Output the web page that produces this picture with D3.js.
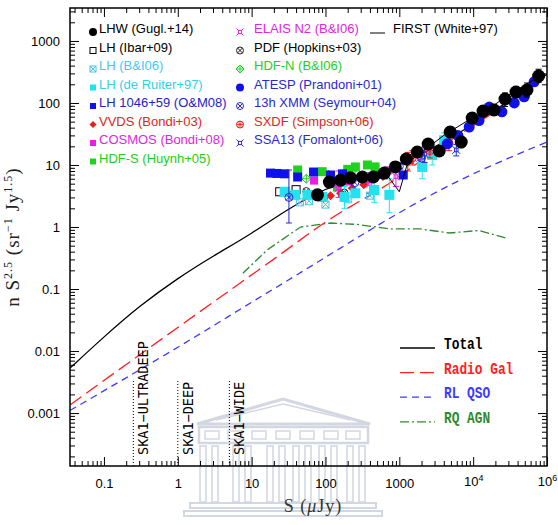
<!DOCTYPE html>
<html>
<head>
<meta charset="utf-8">
<script src="https://cdn.jsdelivr.net/npm/d3@7/dist/d3.min.js"></script>
<style>
  body { margin: 0; background: #fff; }
  svg text { font-family: "Liberation Sans", Arial, sans-serif; }
</style>
</head>
<body>
<div id="chart"></div>
<script>
// ---- model curves: S (uJy) vs n S^2.5 (sr^-1 Jy^1.5)
const totalS = [0.0347, 0.1, 0.3, 1, 3, 10, 30, 100, 300, 1000, 3000, 10000, 30000, 100000];
const totalV = [0.0053, 0.017, 0.053, 0.15, 0.34, 0.78, 1.9, 4.3, 6.2, 10, 19, 45, 105, 290];
const radioGalS = [0.0347, 1, 22, 100, 850, 3000, 10000, 30000, 100000];
const radioGalV = [0.00135, 0.024, 0.33, 1.2, 5.7, 17, 43, 100, 270];
const rlQsoS = [0.0347, 1, 22, 6650, 100000];
const rlQsoV = [0.0011, 0.0115, 0.108, 5.7, 23.5];
const rqAgnS = [7.6, 16.4, 46, 117, 270, 760, 1930, 4750, 12000, 28000];
const rqAgnV = [0.18, 0.43, 1.0, 1.16, 1.1, 0.93, 0.93, 0.8, 0.88, 0.66];

// ---- observed counts: [S, value, errLow, errHigh]
const lhwGugl14 = [[78, 3.3], [113, 5.3], [160, 5.7], [218, 6.2], [316, 6.4], [445, 6.4], [627, 7.4],
  [883, 9.3], [1244, 12.5], [1750, 16.2], [2460, 21.8], [3470, 16.8], [4890, 34, 28, 41], [6900, 23.5, 19, 29],
  [9700, 57, 48, 67], [13600, 74, 62, 88], [19200, 77, 63, 94], [27000, 116, 88, 145], [38000, 150, 122, 185],
  [53500, 162, 125, 210], [77000, 272, 215, 350]];
const lhIbar09 = [[24, 3.7], [40, 4.0]];
const lhBI06 = [[45, 2.5], [60, 2.6], [100, 2.3], [200, 2.8], [400, 3.2]];
const lhDeRuiter97 = [[28, 3.7], [39, 3.3], [57, 3.3], [91, 3.05], [181, 3.05, 2.0, 4.5], [254, 3.5],
  [458, 3.95, 2.5, 6.5], [733, 3.3, 1.7, 6.0], [2040, 9.3, 6, 18], [2790, 14.5, 10, 21], [4040, 25, 18, 33]];
const lh1046OM08 = [[18, 7.4], [22, 7.3], [28, 7.2], [42, 6.4], [69, 7.7], [117, 6.9], [170, 7.2], [600, 7.0], [1130, 6.9]];
const vvdsBondi03 = [[117, 3.2], [160, 3.5], [230, 4.2], [330, 4.8], [600, 6.5], [1300, 11, 8, 16]];
const cosmosBondi08 = [[70, 5.6], [120, 5.0], [200, 5.4], [350, 5.8], [700, 8.2], [1400, 12]];
const hdfsHuynh05 = [[42, 8.3], [90, 7.8], [145, 4.4], [200, 8.5], [254, 9.3], [370, 10], [470, 9.3]];
const elaisBI06 = [[150, 4.2, 3.0, 8.0], [400, 5.0, 3.5, 7.5], [900, 6.5, 4.5, 10], [1900, 13, 9, 19]];
const pdfHopkins03 = [[35, 3.3], [55, 3.8], [95, 2.9], [180, 3.6]];
const hdfnBI06 = [[55, 6], [110, 7], [230, 8]];
const atespPrandoni01 = [[4460, 22], [6200, 30], [8830, 41], [12000, 52], [16500, 86], [24500, 72],
  [36000, 100], [49000, 126], [67000, 219]];
const xmm13hSeymour04 = [[32, 3.0, 1.16, 8.3], [250, 5.2], [500, 6.8], [1000, 9.5], [2000, 13]];
const sxdfSimpson06 = [[1500, 13, 10, 17], [2600, 17, 13, 22], [4700, 22.6, 17, 29]];
const ssa13Fomalont06 = [[2200, 15, 11, 20], [5900, 17.5, 14, 21.5]];
const firstWhite97 = [[700, 6.6], [1000, 3.7], [1300, 11], [2000, 16], [4000, 30], [8000, 50],
  [16000, 80], [32000, 140], [80000, 270]];

// ---- survey depths (uJy)
const skaNames = ["SKA1\u2212ULTRADEEP", "SKA1\u2212DEEP", "SKA1\u2212WIDE"];
const skaDepths = [0.25, 1, 5];

// ---- axis ticks
const xTickVals = [0.1, 1, 10, 100, 1000, 1e4, 1e5];
const xTickLabels = ["0.1", "1", "10", "100", "1000", "10^4", "10^6"];
const yTickVals = [0.001, 0.01, 0.1, 1, 10, 100, 1000];
const yTickLabels = ["0.001", "0.01", "0.1", "1", "10", "100", "1000"];

const W = 558, H = 525;
const margin = {top: 8, right: 11, bottom: 59, left: 70};
const x0 = margin.left, x1 = W - margin.right, y0 = H - margin.bottom, y1 = margin.top;

const svg = d3.select("#chart").append("svg").attr("width", W).attr("height", H);

const x = d3.scaleLog().domain([0.0347, 1e5]).range([x0, x1]);
const y = d3.scaleLog().domain([1.4e-4, 3400]).range([y0, y1]);

svg.append("clipPath").attr("id", "plot-clip")
  .append("rect").attr("x", x0).attr("y", y1).attr("width", x1 - x0).attr("height", y0 - y1);

// faint building watermark behind the lower axis
function drawWatermark() {
  const wm = svg.append("g").attr("fill", "none").attr("stroke", "#d3d7e2");
  wm.append("path").attr("d", "M197,424 L283,399 L370,424 Z").attr("stroke-width", 3);
  wm.append("path").attr("d", "M216,420 L283,404 L351,420").attr("stroke-width", 1.5);
  wm.append("rect").attr("x", 199).attr("y", 427).attr("width", 169).attr("height", 16).attr("stroke-width", 2.5);
  [205, 228, 252, 276, 300, 324, 346].forEach(wx =>
    wm.append("rect").attr("x", wx).attr("y", 431).attr("width", 14).attr("height", 8).attr("stroke-width", 1.5));
  [203, 215, 236, 248, 270, 282, 296, 308, 322, 334, 350, 362].forEach(cx =>
    wm.append("rect").attr("x", cx - 3).attr("y", 446).attr("width", 6).attr("height", 56).attr("stroke-width", 1.6));
  wm.append("rect").attr("x", 190).attr("y", 503).attr("width", 186).attr("height", 5).attr("stroke-width", 2);
  wm.append("rect").attr("x", 184).attr("y", 511).attr("width", 198).attr("height", 5).attr("stroke-width", 2);
}
drawWatermark();

// model curves
const zip = (a, b) => a.map((d, i) => [d, b[i]]);
const models = [
  {s: rqAgnS, v: rqAgnV, color: "#2f8a2f", dash: "9,3,2,3", label: "RQ AGN", curve: d3.curveLinear},
  {s: rlQsoS, v: rlQsoV, color: "#3b3bff", dash: "7,5", label: "RL QSO", curve: d3.curveMonotoneX},
  {s: radioGalS, v: radioGalV, color: "#ff2020", dash: "14,6", label: "Radio Gal", curve: d3.curveMonotoneX},
  {s: totalS, v: totalV, color: "#000", dash: null, label: "Total", curve: d3.curveBasis}
];
const curveG = svg.append("g").attr("clip-path", "url(#plot-clip)");
models.forEach(m => {
  const line = d3.line().x(d => x(d[0])).y(d => y(d[1])).curve(m.curve);
  curveG.append("path").datum(zip(m.s, m.v)).attr("d", line)
    .attr("fill", "none").attr("stroke", m.color).attr("stroke-width", 1.3)
    .attr("stroke-dasharray", m.dash);
});

// SKA depth markers
skaDepths.forEach((d, i) => {
  svg.append("line").attr("x1", x(d)).attr("x2", x(d)).attr("y1", 381).attr("y2", y0)
    .attr("stroke", "#000").attr("stroke-width", 1).attr("stroke-dasharray", "1,2");
  svg.append("text").attr("transform", `translate(${x(d) + 15},455) rotate(-90)`)
    .style("font-family", "'DejaVu Sans Mono', monospace").style("font-size", "13.5px")
    .attr("fill", "#000").text(skaNames[i]);
});

// markers
function drawMarker(g, type, color, s) {
  const h = s / 2;
  const sw = 1;
  if (type === "circle") {
    g.append("circle").attr("r", h).attr("fill", color);
  } else if (type === "square") {
    g.append("rect").attr("x", -h).attr("y", -h).attr("width", s).attr("height", s).attr("fill", color);
  } else if (type === "osquare") {
    g.append("rect").attr("x", -h).attr("y", -h).attr("width", s).attr("height", s)
      .attr("fill", "#fff").attr("stroke", color).attr("stroke-width", sw);
  } else if (type === "xsquare") {
    g.append("rect").attr("x", -h).attr("y", -h).attr("width", s).attr("height", s)
      .attr("fill", "none").attr("stroke", color).attr("stroke-width", sw);
    g.append("path").attr("d", `M${-h},${-h}L${h},${h}M${-h},${h}L${h},${-h}`).attr("stroke", color).attr("stroke-width", sw);
  } else if (type === "diamond") {
    g.append("path").attr("d", `M0,${-h}L${h},0L0,${h}L${-h},0Z`).attr("fill", color);
  } else if (type === "pdiamond") {
    g.append("path").attr("d", `M0,${-h}L${h},0L0,${h}L${-h},0Z`).attr("fill", "none").attr("stroke", color).attr("stroke-width", sw);
    g.append("path").attr("d", `M0,${-h}V${h}M${-h},0H${h}`).attr("stroke", color).attr("stroke-width", sw);
  } else if (type === "xcircle") {
    const k = h * 0.7;
    g.append("circle").attr("r", h).attr("fill", "none").attr("stroke", color).attr("stroke-width", sw);
    g.append("path").attr("d", `M${-k},${-k}L${k},${k}M${-k},${k}L${k},${-k}`).attr("stroke", color).attr("stroke-width", sw);
  } else if (type === "pcircle") {
    const k = h * 0.7;
    g.append("circle").attr("r", h).attr("fill", "none").attr("stroke", color).attr("stroke-width", sw);
    g.append("path").attr("d", `M0,${-h}V${h}M${-h},0H${h}M${-k},${-k}L${k},${k}M${-k},${k}L${k},${-k}`)
      .attr("stroke", color).attr("stroke-width", 0.8);
  } else if (type === "star4") {
    const q = h * 0.45;
    g.append("rect").attr("x", -q).attr("y", -q).attr("width", 2 * q).attr("height", 2 * q)
      .attr("fill", "none").attr("stroke", color).attr("stroke-width", sw);
    g.append("path").attr("d", `M${-h},${-h}L${-q},${-q}M${h},${-h}L${q},${-q}M${-h},${h}L${-q},${q}M${h},${h}L${q},${q}`)
      .attr("stroke", color).attr("stroke-width", sw);
  }
}

const series = [
  {data: lhBI06, color: "#3cc6f0", text: "#44c8f2", marker: "xsquare", size: 7, label: "LH (B&I06)"},
  {data: lhIbar09, color: "#000", text: "#000", marker: "osquare", size: 8, label: "LH (Ibar+09)"},
  {data: pdfHopkins03, color: "#222", text: "#000", marker: "xcircle", size: 7, label: "PDF (Hopkins+03)"},
  {data: hdfnBI06, color: "#1ed21e", text: "#22d022", marker: "pdiamond", size: 9, label: "HDF-N (B&I06)"},
  {data: hdfsHuynh05, color: "#1ed21e", text: "#22cc22", marker: "square", size: 9, label: "HDF-S (Huynh+05)"},
  {data: cosmosBondi08, color: "#e81ee8", text: "#e025e0", marker: "square", size: 8, label: "COSMOS (Bondi+08)"},
  {data: elaisBI06, color: "#e81ee8", text: "#e025e0", marker: "star4", size: 8, label: "ELAIS N2 (B&I06)"},
  {data: vvdsBondi03, color: "#ee1c1c", text: "#e52222", marker: "diamond", size: 9, label: "VVDS (Bondi+03)"},
  {data: lhDeRuiter97, color: "#22e2f0", text: "#33d0ec", marker: "square", size: 10, label: "LH (de Ruiter+97)"},
  {data: lh1046OM08, color: "#1010e8", text: "#2222cc", marker: "square", size: 9, label: "LH 1046+59 (O&M08)"},
  {data: xmm13hSeymour04, color: "#2828d0", text: "#2a2acc", marker: "xcircle", size: 8, label: "13h XMM (Seymour+04)"},
  {data: ssa13Fomalont06, color: "#2828d0", text: "#2a2acc", marker: "star4", size: 8, label: "SSA13 (Fomalont+06)"},
  {data: sxdfSimpson06, color: "#ee1c1c", text: "#e52222", marker: "pcircle", size: 8, label: "SXDF (Simpson+06)"},
  {data: atespPrandoni01, color: "#1010e8", text: "#2a2acc", marker: "circle", size: 11, label: "ATESP (Prandoni+01)"}
];
const lhw = {data: lhwGugl14, color: "#000", text: "#000", marker: "circle", size: 13, label: "LHW (Gugl.+14)"};

const dataG = svg.append("g").attr("clip-path", "url(#plot-clip)");
function drawSeries(s) {
  const g = dataG.append("g");
  s.data.filter(d => d.length > 2).forEach(d => {
    const px = x(d[0]);
    g.append("path").attr("d", `M${px},${y(d[2])}V${y(d[3])}M${px - 3},${y(d[2])}H${px + 3}M${px - 3},${y(d[3])}H${px + 3}`)
      .attr("stroke", s.color).attr("stroke-width", 1).attr("fill", "none");
  });
  s.data.forEach(d => drawMarker(g.append("g").attr("transform", `translate(${x(d[0])},${y(d[1])})`), s.marker, s.color, s.size));
}
series.forEach(drawSeries);
dataG.append("path").datum(firstWhite97).attr("d", d3.line().x(d => x(d[0])).y(d => y(d[1])))
  .attr("fill", "none").attr("stroke", "#000").attr("stroke-width", 1);
drawSeries(lhw);

// axes: major and minor ticks on all four sides, pointing inwards
const isPow10 = d => Math.abs(Math.log10(d) - Math.round(Math.log10(d))) < 1e-9;
const xMinor = x.ticks().filter(d => !isPow10(d));
const yMinor = y.ticks().filter(d => !isPow10(d));

function styleAxis(g) {
  g.select(".domain").remove();
  g.selectAll(".tick line").attr("stroke", "#000").attr("stroke-width", 1);
  g.selectAll("text").attr("fill", "#000").style("font-size", "13px")
    .style("font-family", "'Liberation Sans', Arial, sans-serif");
}

const xb = svg.append("g").attr("transform", `translate(0,${y0})`)
  .call(d3.axisBottom(x).tickValues(xTickVals).tickSize(-9).tickPadding(13).tickFormat((d, i) => xTickLabels[i]))
  .call(styleAxis);
xb.selectAll("text").each(function (d, i) {
  const lab = xTickLabels[i];
  if (lab.includes("^")) {
    const parts = lab.split("^");
    const t = d3.select(this).text(null).attr("dy", "0.5em");
    t.append("tspan").text(parts[0]);
    t.append("tspan").attr("dy", "-0.45em").style("font-size", "9px").text(parts[1]);
  }
});
svg.append("g").attr("transform", `translate(0,${y0})`)
  .call(d3.axisBottom(x).tickValues(xMinor).tickSize(-5).tickFormat("")).call(styleAxis);
svg.append("g").attr("transform", `translate(0,${y1})`)
  .call(d3.axisTop(x).tickValues(xTickVals).tickSize(-9).tickFormat("")).call(styleAxis);
svg.append("g").attr("transform", `translate(0,${y1})`)
  .call(d3.axisTop(x).tickValues(xMinor).tickSize(-5).tickFormat("")).call(styleAxis);
svg.append("g").attr("transform", `translate(${x0},0)`)
  .call(d3.axisLeft(y).tickValues(yTickVals).tickSize(-9).tickPadding(10).tickFormat((d, i) => yTickLabels[i]))
  .call(styleAxis);
svg.append("g").attr("transform", `translate(${x0},0)`)
  .call(d3.axisLeft(y).tickValues(yMinor).tickSize(-5).tickFormat("")).call(styleAxis);
svg.append("g").attr("transform", `translate(${x1},0)`)
  .call(d3.axisRight(y).tickValues(yTickVals).tickSize(-9).tickFormat("")).call(styleAxis);
svg.append("g").attr("transform", `translate(${x1},0)`)
  .call(d3.axisRight(y).tickValues(yMinor).tickSize(-5).tickFormat("")).call(styleAxis);

svg.append("rect").attr("x", x0).attr("y", y1).attr("width", x1 - x0).attr("height", y0 - y1)
  .attr("fill", "none").attr("stroke", "#000").attr("stroke-width", 1.5);

// axis titles
const xt = svg.append("text").attr("x", 313).attr("y", 512).attr("text-anchor", "middle")
  .style("font-family", "'Liberation Serif', serif").style("font-size", "18px").attr("fill", "#333")
  .style("letter-spacing", "1px");
xt.append("tspan").text("S (");
xt.append("tspan").style("font-style", "italic").text("\u03bc");
xt.append("tspan").text("Jy)");

const yt = svg.append("text").attr("transform", "translate(19,237) rotate(-90)").attr("text-anchor", "middle")
  .style("font-family", "'Liberation Serif', serif").style("font-size", "19px").attr("fill", "#222")
  .style("letter-spacing", "1px");
yt.append("tspan").text("n S");
yt.append("tspan").attr("dy", -7).style("font-size", "12px").text("2.5");
yt.append("tspan").attr("dy", 7).text("  (sr");
yt.append("tspan").attr("dy", -7).style("font-size", "12px").text("\u22121");
yt.append("tspan").attr("dy", 7).text("  Jy");
yt.append("tspan").attr("dy", -7).style("font-size", "12px").text("1.5");
yt.append("tspan").attr("dy", 7).text(")");

// data legend (top left)
const legendCol1 = [lhw, series[1], series[0], series[8], series[9], series[7], series[5], series[4]];
const legendCol2 = [series[6], series[2], series[3], series[13], series[10], series[12], series[11]];
const legSize = {circle: 8, square: 6, osquare: 6, xsquare: 6, diamond: 7, pdiamond: 8, xcircle: 7, pcircle: 7, star4: 7};
function drawLegendCol(items, mx, tx) {
  items.forEach((s, i) => {
    const by = 33 + i * 18.5;
    drawMarker(svg.append("g").attr("transform", `translate(${mx},${by - 1})`), s.marker, s.color, legSize[s.marker]);
    svg.append("text").attr("x", tx).attr("y", by).attr("fill", s.text).style("font-size", "13px").text(s.label);
  });
}
drawLegendCol(legendCol1, 93, 99);
drawLegendCol(legendCol2, 240, 254);
svg.append("line").attr("x1", 370).attr("x2", 385).attr("y1", 33).attr("y2", 33).attr("stroke", "#000").attr("stroke-width", 1);
svg.append("text").attr("x", 393).attr("y", 33).attr("fill", "#000").style("font-size", "13px").text("FIRST (White+97)");

// model legend (bottom right)
models.slice().reverse().forEach((m, i) => {
  const by = 349 + i * 24.6;
  svg.append("line").attr("x1", 400).attr("x2", 435).attr("y1", by - 1).attr("y2", by - 1)
    .attr("stroke", m.color).attr("stroke-width", 1.3).attr("stroke-dasharray", m.dash);
  svg.append("text").attr("x", 444).attr("y", by).attr("fill", m.color)
    .style("font-family", "'Liberation Mono', 'Courier New', monospace").style("font-size", "16px")
    .style("font-weight", "bold")
    .attr("textLength", m.label.length * 7.7).attr("lengthAdjust", "spacingAndGlyphs")
    .text(m.label);
});
</script>
</body>
</html>
